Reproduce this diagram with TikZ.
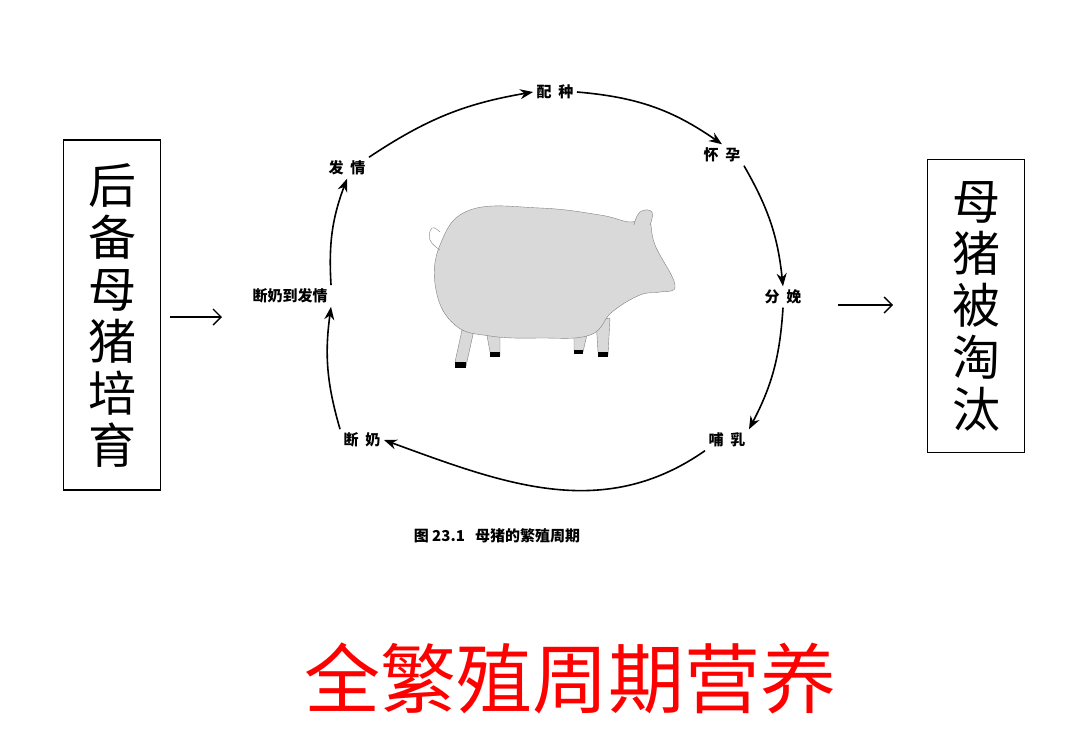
\documentclass[tikz,border=0pt]{standalone}
\usepackage{fontspec}
\newfontfamily\cjk{Noto Sans CJK SC}
\usetikzlibrary{arrows.meta,positioning}
\tikzset{
    stagearrow/.style = {-{Stealth[length=13pt,width=10pt]}, line width=1.6pt},
    stage/.style = {font=\cjk\bfseries\fontsize{15}{15}\selectfont},
    sidebox/.style = {draw, line width=1.3pt, font=\cjk\fontsize{48}{52}\selectfont, align=center, inner xsep=8pt}
}
\begin{document}
\begin{tikzpicture}[x=1pt,y=-1pt]
    \useasboundingbox (0,0) rectangle (1080,745);
    \node (left) [sidebox, minimum width=97pt, minimum height=350pt] at (112,315) {后\\备\\母\\猪\\培\\育};
    \node (right) [sidebox, minimum width=97pt, minimum height=293pt] at (976,306) {母\\猪\\被\\淘\\汰};

    \node (mate) [stage] at (555,92) {配\ \ 种};
    \node (preg) [stage] at (722,155) {怀\ \ 孕};
    \node (birth) [stage] at (783,297) {分\ \ 娩};
    \node (nurse) [stage] at (727,440) {哺\ \ 乳};
    \node (wean) [stage] at (362,440) {断\ \ 奶};
    \node (interval) [stage] at (290,296) {断奶到发情};
    \node (heat) [stage] at (347,168) {发\ \ 情};

    \coordinate (in) at (222,317);
    \coordinate (out) at (838,305);
    \draw [-{Straight Barb[length=8pt]}, line width=1.4pt] (170,317) -- (in);
    \draw [-{Straight Barb[length=8pt]}, line width=1.4pt] (out) -- (893,305);

    % cycle
    \draw [stagearrow] (heat.north east) to[bend left=12] (mate.west);
    \draw [stagearrow] (mate.east) to[bend left=15] (preg.north);
    \draw [stagearrow] (preg.south east) to[bend left=12] (birth.north);
    \draw [stagearrow] (birth.south) to[bend left=12] (nurse.north east);
    \draw [stagearrow] (nurse.south west) to[out=215,in=-20] (wean.east);
    \draw [stagearrow] (wean.north west) to[bend left=12] (interval.south east);
    \draw [stagearrow] (interval.north east) to[bend left=12] (heat.south);

    \node (caption) [font=\cjk\bfseries\fontsize{15}{15}\selectfont] at (497,536) {图 23.1\ \ \ 母猪的繁殖周期};
    \node (title) [font=\cjk\fontsize{76}{76}\selectfont, text=red] at (570,678) {全繁殖周期营养};

    % pig
    \begin{scope}[fill=black!15, draw=black!50, thin]
        \filldraw (462,330) -- (455,362) -- (466,366) -- (474,330) -- cycle;
        \filldraw (486,330) -- (490,352) -- (500,356) -- (500,330) -- cycle;
        \filldraw (574,330) -- (574,350) -- (583,352) -- (588,330) -- cycle;
        \filldraw (596,320) -- (598,352) -- (608,355) -- (610,318) -- cycle;
        \filldraw plot[smooth cycle, tension=0.7] coordinates {
            (440,245) (470,210) (540,208) (600,215) (630,222) (648,218) (655,245)
            (675,285) (660,292) (640,295) (612,312) (590,335) (540,338)
            (490,336) (455,325) (436,290)};
        \filldraw plot[smooth, tension=0.8] coordinates {(634,225) (640,212) (652,212) (650,225)};
        \draw plot[smooth, tension=0.8] coordinates {(440,250) (430,240) (432,228) (440,232)};
    \end{scope}
    \fill (455,362) rectangle (466,368);
    \fill (490,352) rectangle (500,357);
    \fill (574,350) rectangle (583,354);
    \fill (598,352) rectangle (608,357);
\end{tikzpicture}
\end{document}
